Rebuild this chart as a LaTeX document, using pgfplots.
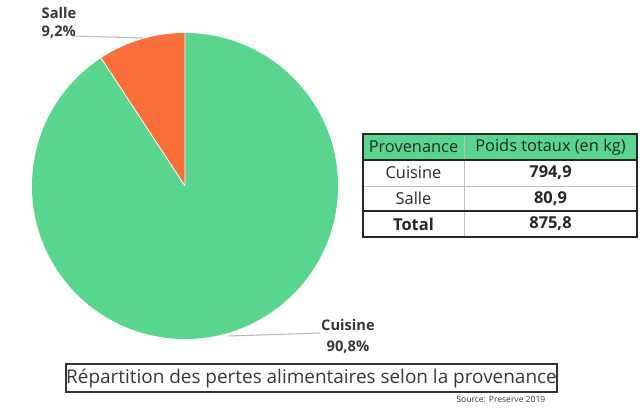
\documentclass[border=0pt]{standalone}
\usepackage{pgfplots}
\pgfplotsset{compat=1.18}
\usepackage{fontspec}
\setmainfont{Open Sans}

\definecolor{cuisine}{RGB}{88,214,141}
\definecolor{salle}{RGB}{250,110,57}
\definecolor{txt}{RGB}{55,55,55}
\definecolor{leader}{RGB}{185,185,185}

% poids totaux (kg)
\pgfmathsetmacro{\kgCuisine}{794.9}
\pgfmathsetmacro{\kgSalle}{80.9}
\pgfmathsetmacro{\kgTotal}{\kgCuisine+\kgSalle}
\pgfmathsetmacro{\angS}{\kgSalle/\kgTotal*360}
\def\R{114.75pt}

\begin{document}
\begin{tikzpicture}
\begin{axis}[
    scale only axis,
    width=480pt, height=310.5pt,
    xmin=0, xmax=640, ymin=0, ymax=414,
    y dir=reverse,
    hide axis, clip=false,
]
\path (axis cs:0,0) rectangle (axis cs:640,414);

% camembert
\fill[cuisine] (axis cs:185,186) -- ++(90+\angS:\R)
    arc[start angle=90+\angS, end angle=450, radius=\R] -- cycle;
\fill[salle] (axis cs:185,186) -- ++(90:\R)
    arc[start angle=90, end angle=90+\angS, radius=\R] -- cycle;
\draw[white, line width=0.6pt] (axis cs:185,186) -- ++(90:\R)
    (axis cs:185,186) -- ++(90+\angS:\R);

% etiquettes
\draw[leader, line width=0.8pt] (axis cs:74,36) -- (axis cs:143,38);
\draw[leader, line width=0.8pt] (axis cs:229,336) -- (axis cs:320,333);
\node[anchor=west, text=txt, font=\fontsize{11}{13}\selectfont\bfseries] at (axis cs:37,13) {Salle};
\node[anchor=west, text=txt, font=\fontsize{11}{13}\selectfont\bfseries] at (axis cs:37,32) {9,2\%};
\node[text=txt, font=\fontsize{11}{13}\selectfont\bfseries] at (axis cs:348,325) {Cuisine};
\node[text=txt, font=\fontsize{11}{13}\selectfont\bfseries] at (axis cs:348,347) {90,8\%};

% tableau
\fill[cuisine] (axis cs:363,134) rectangle (axis cs:637,160);
\draw[black!25, line width=0.6pt] (axis cs:464,134) -- (axis cs:464,237)
    (axis cs:363,186) -- (axis cs:637,186);
\draw[black!85, line width=0.8pt] (axis cs:363,160) -- (axis cs:637,160)
    (axis cs:363,211) -- (axis cs:637,211);
\draw[black!85, line width=0.8pt] (axis cs:363,134) rectangle (axis cs:637,237);
\begin{scope}[every node/.style={font=\fontsize{12.3}{14}\selectfont, text=black!85}]
\node at (axis cs:413.5,147) {Provenance};
\node at (axis cs:550.5,147) {Poids totaux (en kg)};
\node at (axis cs:413.5,173) {Cuisine};
\node at (axis cs:413.5,198.5) {Salle};
\node[font=\fontsize{12.3}{14}\selectfont\bfseries] at (axis cs:413.5,224) {Total};
\node[font=\fontsize{12.3}{14}\selectfont\bfseries] at (axis cs:550.5,173) {794,9};
\node[font=\fontsize{12.3}{14}\selectfont\bfseries] at (axis cs:550.5,198.5) {80,9};
\node[font=\fontsize{12.3}{14}\selectfont\bfseries] at (axis cs:550.5,224) {875,8};
\end{scope}

% titre et source
\draw[black!80, line width=0.8pt] (axis cs:66,364) rectangle (axis cs:557,392);
\node[text=txt, font=\fontsize{14.2}{16}\selectfont] at (axis cs:311.5,378.5) {Répartition des pertes alimentaires selon la provenance};
\node[anchor=east, text=txt, font=\fontsize{6.4}{7.5}\selectfont] at (axis cs:550,399) {Source: Preserve 2019};
\end{axis}
\end{tikzpicture}
\end{document}
